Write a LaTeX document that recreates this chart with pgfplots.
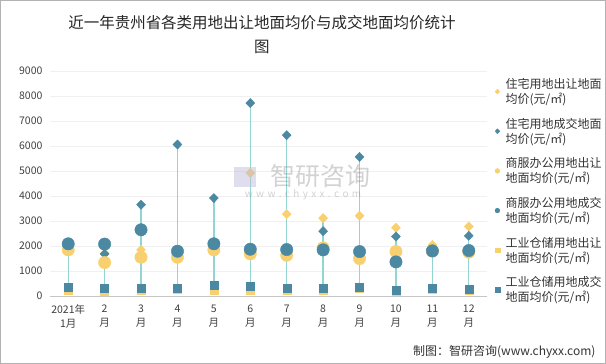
\documentclass[border=0pt]{standalone}
\usepackage{fontspec}
\setmainfont{Noto Sans CJK SC}
\usepackage{pgfplots}
\pgfplotsset{compat=1.18}
\definecolor{cy}{HTML}{F9D06F}
\definecolor{cb}{HTML}{4B88A2}
\definecolor{hl}{HTML}{93D5D2}
\begin{document}
\begin{tikzpicture}[x=1pt,y=1pt]
\draw[gray!60, line width=1pt] (0.5,0.5) rectangle (605.5,363.5);
\node[align=center, font=\fontsize{15.5}{24}\selectfont, text=black!85] at (262,329) {近一年贵州省各类用地出让地面均价与成交地面均价统计\\图};
\node[anchor=east, font=\fontsize{12}{14}\selectfont, text=black!80] at (599,12) {制图：智研咨询(www.chyxx.com)};
\begin{axis}[at={(50pt,68pt)}, anchor=south west, scale only axis,
  width=437pt, height=225pt,
  xmin=0.5, xmax=12.5, ymin=0, ymax=9000,
  ytick={0,1000,...,9000},
  xtick={1,...,12},
  xticklabels={{2021年\\1月},{2\\月},{3\\月},{4\\月},{5\\月},{6\\月},{7\\月},{8\\月},{9\\月},{10\\月},{11\\月},{12\\月}},
  xticklabel style={align=center, font=\fontsize{10.5}{14}\selectfont, text=black!75, yshift=-5pt},
  yticklabel style={font=\fontsize{10.5}{13}\selectfont, text=black!75, xshift=-4pt},
  /pgf/number format/assume math mode=true,
  /pgf/number format/1000 sep={},
  axis x line*=bottom, axis y line*=left,
  x axis line style={draw=gray!45, line width=0.8pt},
  y axis line style={draw=none},
  major tick length=0pt,
  ymajorgrids, grid style={gray!12},
  unbounded coords=jump,
  legend cell align=left,
  legend image code/.code={\draw[mark size=2.4pt] plot coordinates {(0pt,0pt)}; \path (-3pt,0pt) (6pt,0pt);},
  legend style={at={(1,1)}, anchor=north west, xshift=7pt, yshift=-5pt, draw=none, fill=none,
    font=\fontsize{12}{15}\selectfont, text=black!80, row sep=9pt, inner sep=0pt,
    cells={align=left}},
]
\addplot[hl, line width=1.4pt, forget plot] coordinates {
(1,240) (1,2087) (1.5,nan)
(2,200) (2,2075) (2.5,nan)
(3,250) (3,3651) (3.5,nan)
(4,260) (4,6060) (4.5,nan)
(5,240) (5,3918) (5.5,nan)
(6,220) (6,7717) (6.5,nan)
(7,230) (7,6433) (7.5,nan)
(8,250) (8,3115) (8.5,nan)
(9,300) (9,5563) (9.5,nan)
(10,200) (10,2729) (10.5,nan)
(11,270) (11,2040) (11.5,nan)
(12,240) (12,2781)};
\addplot[only marks, mark=diamond*, mark size=4.6pt, cy, mark options={draw=cy, fill=cy, xscale=1.3}] coordinates {
(1,1950) (2,1700) (3,1845) (4,1870) (5,1880) (6,4921) (7,3276) (8,3115) (9,3210) (10,2729) (11,2040) (12,2781)};
\addlegendentry{住宅用地出让地面\\均价(元/㎡)}
\addplot[only marks, mark=diamond*, mark size=4.6pt, cb, mark options={draw=cb, fill=cb, xscale=1.3}] coordinates {
(1,1980) (2,1685) (3,3651) (4,6060) (5,3918) (6,7717) (7,6433) (8,2593) (9,5563) (10,2380) (11,1800) (12,2407)};
\addlegendentry{住宅用地成交地面\\均价(元/㎡)}
\addplot[only marks, mark=*, mark size=6.2pt, cy, mark options={draw=cy, fill=cy}] coordinates {
(1,1845) (2,1337) (3,1550) (4,1550) (5,1845) (6,1685) (7,1630) (8,1926) (9,1497) (10,1778) (11,1790) (12,1750)};
\addlegendentry{商服办公用地出让\\地面均价(元/㎡)}
\addplot[only marks, mark=*, mark size=6.2pt, cb, mark options={draw=cb, fill=cb}] coordinates {
(1,2087) (2,2075) (3,2648) (4,1791) (5,2087) (6,1871) (7,1858) (8,1845) (9,1778) (10,1364) (11,1805) (12,1818)};
\addlegendentry{商服办公用地成交\\地面均价(元/㎡)}
\addplot[only marks, mark=square*, mark size=4pt, cy, mark options={draw=cy, fill=cy}] coordinates {
(1,240) (2,200) (3,250) (4,260) (5,240) (6,220) (7,230) (8,250) (9,300) (10,200) (11,270) (12,240)};
\addlegendentry{工业仓储用地出让\\地面均价(元/㎡)}
\addplot[only marks, mark=square*, mark size=4pt, cb, mark options={draw=cb, fill=cb}] coordinates {
(1,346) (2,293) (3,320) (4,320) (5,414) (6,374) (7,306) (8,293) (9,346) (10,226) (11,306) (12,280)};
\addlegendentry{工业仓储用地成交\\地面均价(元/㎡)}
\end{axis}
\node[inner sep=0pt, font=\fontsize{25}{26}\selectfont, text=gray, opacity=0.35] at (320,188) {智研咨询};
\node[inner sep=0pt, font=\fontsize{10}{11}\selectfont, text=gray, opacity=0.35] at (303,169) {w\,\,w\,\,w\,\,.\,\,c\,\,h\,\,y\,\,x\,\,x\,\,.\,\,c\,\,o\,\,m};
\fill[blue!30!gray!40, opacity=0.5] (234,177) rectangle (256,197);
\end{tikzpicture}
\end{document}
